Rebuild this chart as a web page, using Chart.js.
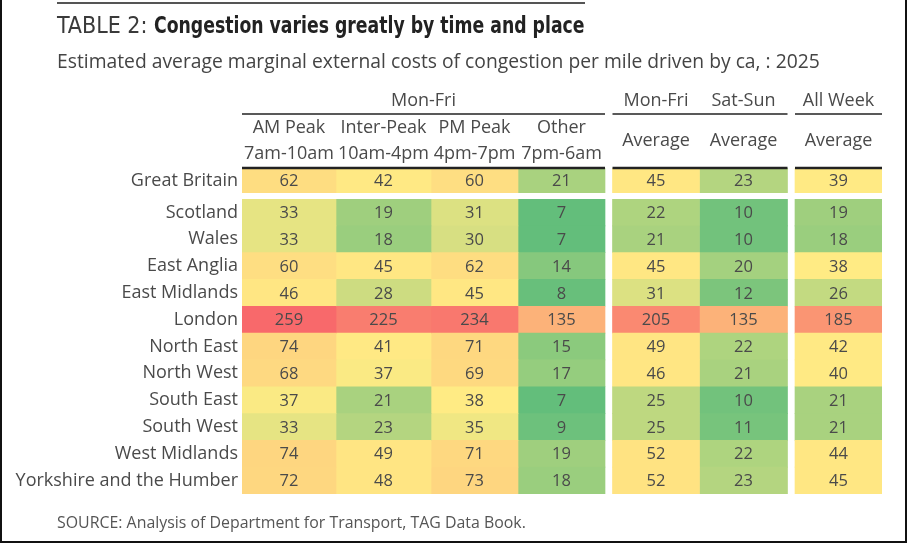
<!DOCTYPE html>
<html>
<head>
<meta charset="utf-8">
<script src="https://cdn.jsdelivr.net/npm/chart.js@4.4.1/dist/chart.umd.min.js"></script>
<style>
  html, body { margin: 0; padding: 0; background: #fff; }
  #wrap { position: relative; width: 910px; height: 544px; overflow: hidden; font-family: 'Open Sans', 'Noto Sans', sans-serif; }
  #chart { position: absolute; left: 0; top: 0; }
  #frame { position: absolute; left: 0; top: 0; width: 903px; height: 541px; border: 2px solid #111; border-top: none; pointer-events: none; }
  #topRule { position: absolute; left: 57px; top: 2px; width: 528px; height: 2px; background: #555; }
  #title { position: absolute; left: 57px; top: 12px; font-family: 'DejaVu Sans Condensed', sans-serif; font-size: 23px; line-height: 26px; color: #3a3a3a; white-space: nowrap; }
  #title b { display: inline-block; color: #222; transform: scaleX(0.835); transform-origin: left center; }
  #subtitle { position: absolute; left: 57px; top: 50px; font-size: 19.3px; line-height: 22px; color: #444; white-space: nowrap; }
  #source { position: absolute; left: 57px; top: 512px; font-size: 15.9px; line-height: 20px; color: #555; white-space: nowrap; }
</style>
</head>
<body>
<div id="wrap">
  <canvas id="chart" width="910" height="544"></canvas>
  <div id="topRule"></div>
  <div id="title">TABLE 2: <b>Congestion varies greatly by time and place</b></div>
  <div id="subtitle">Estimated average marginal external costs of congestion per mile driven by ca, : 2025</div>
  <div id="source">SOURCE: Analysis of Department for Transport, TAG Data Book.</div>
  <div id="frame"></div>
</div>
<script>
// Rows: first one is the Great Britain total, then the regions
const rowLabels = ['Great Britain', 'Scotland', 'Wales', 'East Anglia', 'East Midlands', 'London',
  'North East', 'North West', 'South East', 'South West', 'West Midlands', 'Yorkshire and the Humber'];

// Values per column (pence per mile), same order as rowLabels
const amPeak    = [62, 33, 33, 60, 46, 259, 74, 68, 37, 33, 74, 72];
const interPeak = [42, 19, 18, 45, 28, 225, 41, 37, 21, 23, 49, 48];
const pmPeak    = [60, 31, 30, 62, 45, 234, 71, 69, 38, 35, 71, 73];
const other     = [21,  7,  7, 14,  8, 135, 15, 17,  7,  9, 19, 18];
const monFriAvg = [45, 22, 21, 45, 31, 205, 49, 46, 25, 25, 52, 52];
const satSunAvg = [23, 10, 10, 20, 12, 135, 22, 21, 10, 11, 22, 23];
const allWeekAvg = [39, 19, 18, 38, 26, 185, 42, 40, 21, 21, 44, 45];

const columns = [amPeak, interPeak, pmPeak, other, monFriAvg, satSunAvg, allWeekAvg];

// Header labels
const columnHeads = [['AM Peak', '7am-10am'], ['Inter-Peak', '10am-4pm'], ['PM Peak', '4pm-7pm'],
  ['Other', '7pm-6am'], ['Average'], ['Average'], ['Average']];
const groupHeads = [
  { label: 'Mon-Fri', from: 0, to: 3 },
  { label: 'Mon-Fri', from: 4, to: 4 },
  { label: 'Sat-Sun', from: 5, to: 5 },
  { label: 'All Week', from: 6, to: 6 }
];
const ruleSpans = [[0, 3], [4, 5], [6, 6]];

// Layout (x units of the value axis)
const COL_WIDTHS = [94, 95, 87, 87, 87, 88, 87];
const COL_GROUP = [0, 0, 0, 0, 1, 1, 2];
const GROUP_GAP = 7.5;

const colStart = [];
const colEnd = [];
let pos = 0;
COL_WIDTHS.forEach((w, i) => {
    if (i > 0 && COL_GROUP[i] !== COL_GROUP[i - 1]) pos += GROUP_GAP;
    colStart.push(pos);
    pos += w;
    colEnd.push(pos);
});
const X_MAX = pos;

// Green - yellow - red scale like a spreadsheet conditional format
const allValues = columns.flat();
const vMin = Math.min(...allValues);
const vMax = Math.max(...allValues);
const vMid = 38;
const LOW = [99, 190, 123], MID = [255, 235, 132], HIGH = [248, 105, 107];

function mix(a, b, t) {
    return a.map((c, k) => Math.round(c + (b[k] - c) * t));
}

function cellColor(v) {
    const rgb = v <= vMid
        ? mix(LOW, MID, (v - vMin) / (vMid - vMin))
        : mix(MID, HIGH, (v - vMid) / (vMax - vMid));
    return `rgb(${rgb[0]}, ${rgb[1]}, ${rgb[2]})`;
}

const TEXT = '#4a4a4a';
const FONT = '"Open Sans", "Noto Sans", sans-serif';

// One dataset per column and per row block (GB block / regions block)
const datasets = [];
columns.forEach((vals, i) => {
    datasets.push({
        label: 'gb' + i,
        yAxisID: 'yGB',
        data: [[colStart[i], colEnd[i]]],
        values: [vals[0]],
        backgroundColor: [cellColor(vals[0])]
    });
    datasets.push({
        label: 'reg' + i,
        yAxisID: 'yReg',
        data: vals.slice(1).map(() => [colStart[i], colEnd[i]]),
        values: vals.slice(1),
        backgroundColor: vals.slice(1).map(cellColor)
    });
});

const cellText = {
    id: 'cellText',
    afterDatasetsDraw(chart) {
        const ctx = chart.ctx;
        ctx.save();
        ctx.font = '16.5px ' + FONT;
        ctx.fillStyle = TEXT;
        ctx.textAlign = 'center';
        ctx.textBaseline = 'middle';
        chart.data.datasets.forEach((ds, i) => {
            const meta = chart.getDatasetMeta(i);
            meta.data.forEach((bar, j) => {
                const c = bar.getCenterPoint();
                ctx.fillText(ds.values[j], c.x, c.y + 1);
            });
        });
        ctx.restore();
    }
};

const tableHeader = {
    id: 'tableHeader',
    afterDraw(chart) {
        const { ctx, chartArea } = chart;
        const x = chart.scales.x;
        const top = chartArea.top;
        ctx.save();
        ctx.font = '18px ' + FONT;
        ctx.fillStyle = TEXT;
        ctx.textAlign = 'center';
        ctx.textBaseline = 'middle';

        groupHeads.forEach(g => {
            const x0 = x.getPixelForValue(colStart[g.from]);
            const x1 = x.getPixelForValue(colEnd[g.to]);
            ctx.fillText(g.label, (x0 + x1) / 2, top - 67);
        });
        columnHeads.forEach((h, i) => {
            const cx = x.getPixelForValue((colStart[i] + colEnd[i]) / 2);
            if (h.length === 2) {
                ctx.fillText(h[0], cx, top - 40);
                ctx.fillText(h[1], cx, top - 14);
            } else {
                ctx.fillText(h[0], cx, top - 27);
            }
        });

        ctx.strokeStyle = '#222';
        ruleSpans.forEach(([a, b]) => {
            const x0 = x.getPixelForValue(colStart[a]);
            const x1 = x.getPixelForValue(colEnd[b]);
            ctx.lineWidth = 1.5;
            ctx.beginPath();
            ctx.moveTo(x0, top - 54);
            ctx.lineTo(x1, top - 54);
            ctx.stroke();
            ctx.lineWidth = 2.5;
            ctx.beginPath();
            ctx.moveTo(x0, top);
            ctx.lineTo(x1, top);
            ctx.stroke();
        });
        ctx.restore();
    }
};

const rowAxis = (labels, weight, order) => ({
    type: 'category',
    labels: labels,
    position: 'left',
    stack: 'rows',
    stackWeight: weight,
    weight: order,
    offset: true,
    grid: { display: false, drawTicks: false },
    border: { display: false },
    ticks: { color: TEXT, font: { family: FONT, size: 18 }, padding: 4, autoSkip: false },
    afterFit: scale => { scale.width = 242; }
});

new Chart(document.getElementById('chart'), {
    type: 'bar',
    data: { datasets: datasets },
    options: {
        indexAxis: 'y',
        responsive: false,
        animation: false,
        devicePixelRatio: 1,
        layout: { padding: { top: 168, bottom: 50, left: 0, right: 28 } },
        datasets: {
            bar: { grouped: false, categoryPercentage: 1, barPercentage: 1 }
        },
        plugins: {
            legend: { display: false },
            tooltip: { enabled: false }
        },
        scales: {
            x: { type: 'linear', min: 0, max: X_MAX, display: false },
            yGB: rowAxis(rowLabels.slice(0, 1), 25, 2),
            yGap: rowAxis([''], 6, 1),
            yReg: rowAxis(rowLabels.slice(1), 295, 0)
        }
    },
    plugins: [cellText, tableHeader]
});
</script>
</body>
</html>
